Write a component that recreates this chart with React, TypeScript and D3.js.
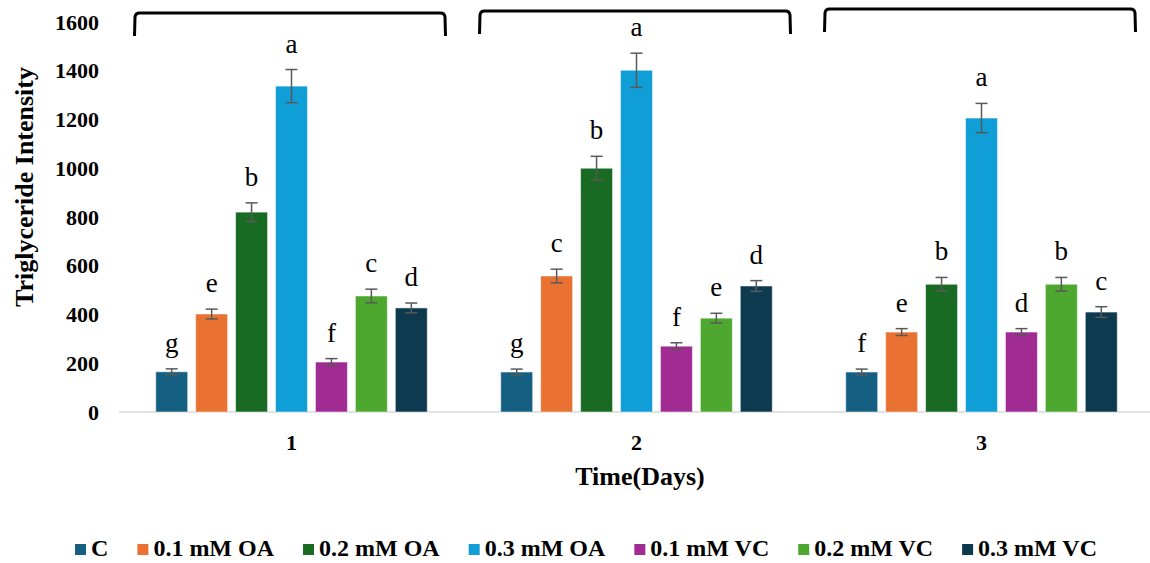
import React, { useEffect, useRef } from "react";
import * as d3 from "d3";

// Days on the x axis
const days = ["1", "2", "3"];

// Treatments, in drawing order
const treatments = [
  "C",
  "0.1 mM OA",
  "0.2 mM OA",
  "0.3 mM OA",
  "0.1 mM VC",
  "0.2 mM VC",
  "0.3 mM VC",
];

const treatmentColors = [
  "#156082",
  "#E97132",
  "#196B24",
  "#0F9ED5",
  "#A02B93",
  "#4EA72E",
  "#0D3A4E",
];

// Mean triglyceride intensity per day (rows) and treatment (columns)
const day1Values = [165, 402, 820, 1337, 205, 476, 427];
const day2Values = [164, 558, 1000, 1402, 270, 385, 517];
const day3Values = [164, 328, 524, 1206, 328, 524, 410];

// Standard error bars
const day1Errors = [12, 20, 38, 68, 14, 28, 20];
const day2Errors = [12, 28, 49, 70, 14, 20, 22];
const day3Errors = [12, 14, 28, 60, 14, 28, 22];

// Significance letters
const day1Letters = ["g", "e", "b", "a", "f", "c", "d"];
const day2Letters = ["g", "c", "b", "a", "f", "e", "d"];
const day3Letters = ["f", "e", "b", "a", "d", "b", "c"];

const yTicks = [0, 200, 400, 600, 800, 1000, 1200, 1400, 1600];

const yTitle = "Triglyceride Intensity";
const xTitle = "Time(Days)";

const WIDTH = 1150;
const HEIGHT = 563;
const SERIF = "Liberation Serif, serif";

export default function App() {
  const ref = useRef<SVGSVGElement | null>(null);

  useEffect(() => {
    const svg = d3.select(ref.current);
    svg.selectAll("*").remove();

    const valuesByDay = [day1Values, day2Values, day3Values];
    const errorsByDay = [day1Errors, day2Errors, day3Errors];
    const lettersByDay = [day1Letters, day2Letters, day3Letters];

    const rows = days.flatMap((day, di) =>
      treatments.map((t, ti) => ({
        day,
        treatment: t,
        color: treatmentColors[ti],
        value: valuesByDay[di][ti],
        error: errorsByDay[di][ti],
        letter: lettersByDay[di][ti],
      }))
    );

    const x0 = d3.scaleBand<string>().domain(days).range([119, 1154]).padding(0);
    const x1 = d3
      .scaleBand<string>()
      .domain(treatments)
      .range([0, x0.bandwidth()])
      .paddingInner(0.2)
      .paddingOuter(0.92);
    const y = d3.scaleLinear().domain([0, 1600]).range([412, 22]);

    svg
      .append("rect")
      .attr("width", WIDTH)
      .attr("height", HEIGHT)
      .attr("fill", "#ffffff");

    // Group brackets over each day
    const brackets = svg.append("g");
    days.forEach((day, i) => {
      const cx = (x0(day) as number) + x0.bandwidth() / 2;
      const left = cx - 157;
      const right = cx + 154;
      const top = 13 - i * 2;
      const bottom = top + 23;
      const r = 4;
      const p = d3.path();
      p.moveTo(left, bottom);
      p.lineTo(left + 0.5, top + r);
      p.quadraticCurveTo(left + 1, top, left + r + 1, top);
      p.lineTo(right - r - 1, top);
      p.quadraticCurveTo(right - 1, top, right - 0.5, top + r);
      p.lineTo(right, bottom);
      brackets
        .append("path")
        .attr("d", p.toString())
        .attr("fill", "none")
        .attr("stroke", "#000")
        .attr("stroke-width", 3)
        .attr("stroke-linejoin", "round");
    });

    // Baseline
    svg
      .append("line")
      .attr("x1", 119)
      .attr("x2", 1150)
      .attr("y1", y(0))
      .attr("y2", y(0))
      .attr("stroke", "#D9D9D9")
      .attr("stroke-width", 1.5);

    // Y tick labels
    svg
      .append("g")
      .selectAll("text")
      .data(yTicks)
      .join("text")
      .attr("x", 99)
      .attr("y", (d) => y(d))
      .attr("dy", "0.35em")
      .attr("text-anchor", "end")
      .attr("font-family", SERIF)
      .attr("font-weight", "bold")
      .attr("font-size", 22)
      .attr("fill", "#000")
      .text((d) => String(d));

    // Y title
    svg
      .append("text")
      .attr("transform", `translate(33, 187) rotate(-90)`)
      .attr("text-anchor", "middle")
      .attr("font-family", SERIF)
      .attr("font-weight", "bold")
      .attr("font-size", 26)
      .attr("fill", "#000")
      .text(yTitle);

    // X tick labels
    svg
      .append("g")
      .selectAll("text")
      .data(days)
      .join("text")
      .attr("x", (d) => (x0(d) as number) + x0.bandwidth() / 2)
      .attr("y", 450)
      .attr("text-anchor", "middle")
      .attr("font-family", SERIF)
      .attr("font-weight", "bold")
      .attr("font-size", 22)
      .attr("fill", "#000")
      .text((d) => d);

    // X title
    svg
      .append("text")
      .attr("x", 640)
      .attr("y", 485)
      .attr("text-anchor", "middle")
      .attr("font-family", SERIF)
      .attr("font-weight", "bold")
      .attr("font-size", 26)
      .attr("fill", "#000")
      .text(xTitle);

    const barX = (d: (typeof rows)[number]) =>
      (x0(d.day) as number) + (x1(d.treatment) as number);
    const bw = x1.bandwidth();

    // Bars
    svg
      .append("g")
      .selectAll("rect")
      .data(rows)
      .join("rect")
      .attr("x", barX)
      .attr("y", (d) => y(d.value))
      .attr("width", bw)
      .attr("height", (d) => y(0) - y(d.value))
      .attr("fill", (d) => d.color)
      .attr("stroke", "#ffffff")
      .attr("stroke-opacity", 0.5)
      .attr("stroke-width", 1);

    // Error bars
    const eb = svg.append("g").attr("stroke", "#595959").attr("stroke-width", 1.5);
    rows.forEach((d) => {
      const cx = barX(d) + bw / 2;
      const yt = y(d.value + d.error);
      const yb = y(d.value - d.error);
      eb.append("line").attr("x1", cx).attr("x2", cx).attr("y1", yt).attr("y2", yb);
      eb.append("line").attr("x1", cx - 6).attr("x2", cx + 6).attr("y1", yt).attr("y2", yt);
      eb.append("line").attr("x1", cx - 6).attr("x2", cx + 6).attr("y1", yb).attr("y2", yb);
    });

    // Significance letters
    svg
      .append("g")
      .selectAll("text")
      .data(rows)
      .join("text")
      .attr("x", (d) => barX(d) + bw / 2)
      .attr("y", (d) => y(d.value + d.error) - 17)
      .attr("text-anchor", "middle")
      .attr("font-family", SERIF)
      .attr("font-size", 27)
      .attr("fill", "#000")
      .text((d) => d.letter);

    // Legend, laid out from measured label widths
    const legend = svg.append("g");
    const sq = 11;
    const gapAfterSquare = 5;
    const gapAfterText = 29;
    const items = treatments.map((t, i) => {
      const g = legend.append("g");
      g.append("rect")
        .attr("width", sq)
        .attr("height", sq)
        .attr("y", -sq - 1)
        .attr("fill", treatmentColors[i]);
      const txt = g
        .append("text")
        .attr("x", sq + gapAfterSquare)
        .attr("y", 0)
        .attr("font-family", SERIF)
        .attr("font-weight", "bold")
        .attr("font-size", 24)
        .attr("fill", "#000")
        .text(t);
      const w = (txt.node() as SVGTextElement).getComputedTextLength();
      return { g, w: sq + gapAfterSquare + w };
    });
    const total =
      items.reduce((s, it) => s + it.w, 0) + gapAfterText * (items.length - 1);
    let cx = 586 - total / 2;
    items.forEach((it) => {
      it.g.attr("transform", `translate(${cx}, 556)`);
      cx += it.w + gapAfterText;
    });
  }, []);

  return (
    <svg
      ref={ref}
      width={WIDTH}
      height={HEIGHT}
      style={{ position: "absolute", left: 0, top: 0, display: "block" }}
    />
  );
}
